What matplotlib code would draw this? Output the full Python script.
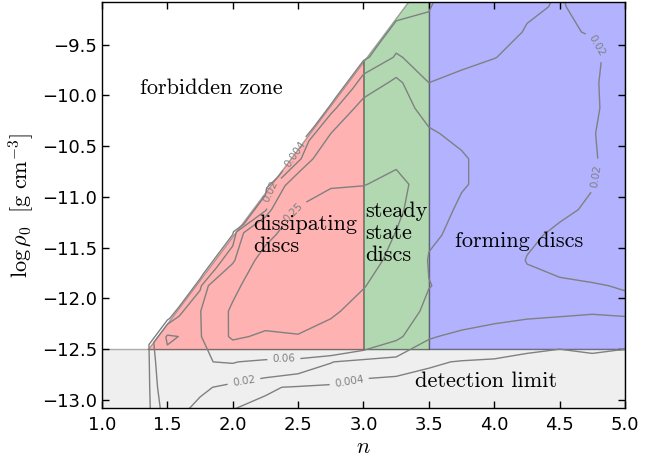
import numpy as np
import matplotlib
matplotlib.use("Agg")
import matplotlib.pyplot as plt

plt.rcParams['mathtext.fontset'] = 'cm'

# ---- density map of disc models in the (n, log rho0) plane ----
n_grid = [1.0, 1.35, 1.5, 1.75, 2.0, 2.25, 2.5, 2.75, 3.0, 3.25,
          3.5, 3.75, 4.0, 4.25, 4.5, 4.75, 5.0]
logrho_grid = [-13.125, -12.875, -12.625, -12.375, -12.125, -11.875,
               -11.625, -11.375, -11.125, -10.875, -10.625, -10.375,
               -10.125, -9.875, -9.625, -9.375, -9.125, -8.875]
density = [
    [0, 0, 0.03, 0.012, 0.003, 0.002, 0.001, 0.001, 0.001, 0.001, 0.001, 0.001, 0.001, 0.001, 0.001, 0.001, 0.001],
    [0, 0, 0.04, 0.025, 0.012, 0.005, 0.003, 0.002, 0.001, 0.001, 0.001, 0.001, 0.001, 0.001, 0.0012, 0.0015, 0.0015],
    [0, 0, 0.05, 0.058, 0.063, 0.045, 0.035, 0.021, 0.01, 0.008, 0.005, 0.0035, 0.0032, 0.0025, 0.002, 0.003, 0.003],
    [0, 0, 0.065, 0.05, 0.28, 0.22, 0.24, 0.18, 0.12, 0.07, 0.022, 0.015, 0.01, 0.007, 0.006, 0.006, 0.005],
    [0, 0, 0, 0.055, 0.28, 0.35, 0.35, 0.28, 0.18, 0.1, 0.045, 0.035, 0.03, 0.026, 0.024, 0.022, 0.024],
    [0, 0, 0, 0.012, 0.2, 0.4, 0.45, 0.4, 0.26, 0.14, 0.062, 0.04, 0.035, 0.026, 0.023, 0.021, 0.019],
    [0, 0, 0, 0, 0.04, 0.35, 0.45, 0.45, 0.35, 0.18, 0.055, 0.04, 0.038, 0.019, 0.014, 0.013, 0.012],
    [0, 0, 0, 0, 0, 0.18, 0.4, 0.45, 0.4, 0.24, 0.07, 0.045, 0.04, 0.024, 0.016, 0.013, 0.01],
    [0, 0, 0, 0, 0, 0.012, 0.27, 0.4, 0.4, 0.3, 0.09, 0.05, 0.04, 0.03, 0.024, 0.017, 0.01],
    [0, 0, 0, 0, 0, 0, 0.1, 0.22, 0.24, 0.32, 0.14, 0.065, 0.042, 0.033, 0.028, 0.021, 0.011],
    [0, 0, 0, 0, 0, 0, 0.01, 0.12, 0.15, 0.2, 0.1, 0.065, 0.042, 0.035, 0.03, 0.022, 0.01],
    [0, 0, 0, 0, 0, 0, 0, 0.06, 0.12, 0.1, 0.065, 0.05, 0.04, 0.035, 0.03, 0.021, 0.011],
    [0, 0, 0, 0, 0, 0, 0, 0.008, 0.08, 0.08, 0.045, 0.04, 0.035, 0.033, 0.03, 0.023, 0.01],
    [0, 0, 0, 0, 0, 0, 0, 0, 0.03, 0.07, 0.02, 0.025, 0.03, 0.03, 0.028, 0.022, 0.012],
    [0, 0, 0, 0, 0, 0, 0, 0, 0, 0.022, 0.012, 0.015, 0.0195, 0.026, 0.025, 0.024, 0.01],
    [0, 0, 0, 0, 0, 0, 0, 0, 0, 0.01, 0.006, 0.012, 0.014, 0.021, 0.022, 0.019, 0.009],
    [0, 0, 0, 0, 0, 0, 0, 0, 0, 0, 0.0035, 0.01, 0.012, 0.018, 0.021, 0.016, 0.008],
    [0, 0, 0, 0, 0, 0, 0, 0, 0, 0, 0.001, 0.008, 0.01, 0.015, 0.02, 0.012, 0.007],
]
contour_levels = [0.004, 0.02, 0.06, 0.25]

# ---- regime boundaries ----
detection_limit = -12.5       # log rho0 below which discs are undetectable
forbid_n0 = 1.35              # n where the forbidden line meets the detection limit
forbid_slope = 1.72           # d(log rho0)/dn of the forbidden line
n_dissipating_max = 3.0
n_steady_max = 3.5
n_range = (1.0, 5.0)
logrho_range = (-13.08, -9.08)


def forbidden_line(n):
    return detection_limit + forbid_slope * (np.asarray(n, float) - forbid_n0)


fig = plt.figure(figsize=(6.6, 4.59), dpi=100)
ax = fig.add_axes([0.1545, 0.111, 0.7925, 0.8845])

# grid nodes inside the forbidden zone sit on its edge, so the map ends there
N, R = np.meshgrid(n_grid, logrho_grid)
edge = forbidden_line(N)
R = np.where(R > edge, edge + 0.04, R)
Z = np.array(density)

label_spots = {
    0.004: [(2.45, -10.55), (2.88, -12.73)],
    0.02: [(2.3, -10.95), (2.08, -12.77), (4.8, -9.5), (4.82, -10.8)],
    0.06: [(2.39, -12.53)],
    0.25: [(2.46, -11.15)],
}
for lev in contour_levels:
    cs = ax.contour(N, R, Z, levels=[lev], colors='0.5', linewidths=1.0)
    ax.clabel(cs, fmt=lambda v: f'{v:g}', fontsize=7.5, inline=True,
              manual=label_spots[lev])

# regime patches
n_top = n_range[1]
x_red = np.array([forbid_n0, n_dissipating_max])
ax.fill_between(x_red, detection_limit, forbidden_line(x_red),
                facecolor='r', edgecolor='k', alpha=0.3, lw=1)
x_green = np.array([n_dissipating_max, n_steady_max])
ax.fill_between(x_green, detection_limit, forbidden_line(x_green),
                facecolor='g', edgecolor='k', alpha=0.3, lw=1)
x_blue = np.array([n_steady_max, n_top])
ax.fill_between(x_blue, detection_limit, logrho_range[1] + 1.0,
                facecolor='b', edgecolor='k', alpha=0.3, lw=1)
ax.fill_between(np.array(n_range), logrho_range[0] - 1.0, detection_limit,
                facecolor='0.8', edgecolor='k', alpha=0.3, lw=1)

txt = dict(family='cmr10', fontsize=16, color='k')
ax.text(1.84, -9.93, 'forbidden zone', ha='center', va='center', **txt)
ax.text(2.16, -11.38, 'dissipating\ndiscs', ha='left', va='center',
        linespacing=1.15, **txt)
ax.text(3.015, -11.36, 'steady\nstate\ndiscs', ha='left', va='center',
        linespacing=1.15, **txt)
ax.text(4.19, -11.44, 'forming discs', ha='center', va='center', **txt)
ax.text(3.94, -12.82, 'detection limit', ha='center', va='center', **txt)

ax.set_xlim(*n_range)
ax.set_ylim(*logrho_range)
ax.set_xticks(np.arange(1.0, 5.01, 0.5))
ax.set_yticks(np.arange(-13.0, -9.49, 0.5))
ax.tick_params(direction='in', top=True, right=True, labelsize=13,
               length=5, width=1)
ax.tick_params(axis='x', pad=6)
ax.set_xlabel(r'$n$', fontsize=16, labelpad=2)
ax.set_ylabel(r'$\log\rho_0\ \ [\mathrm{g\ cm^{-3}}]$', fontsize=16)
for s in ax.spines.values():
    s.set_linewidth(1.0)

fig.savefig('out.png', dpi=100)
